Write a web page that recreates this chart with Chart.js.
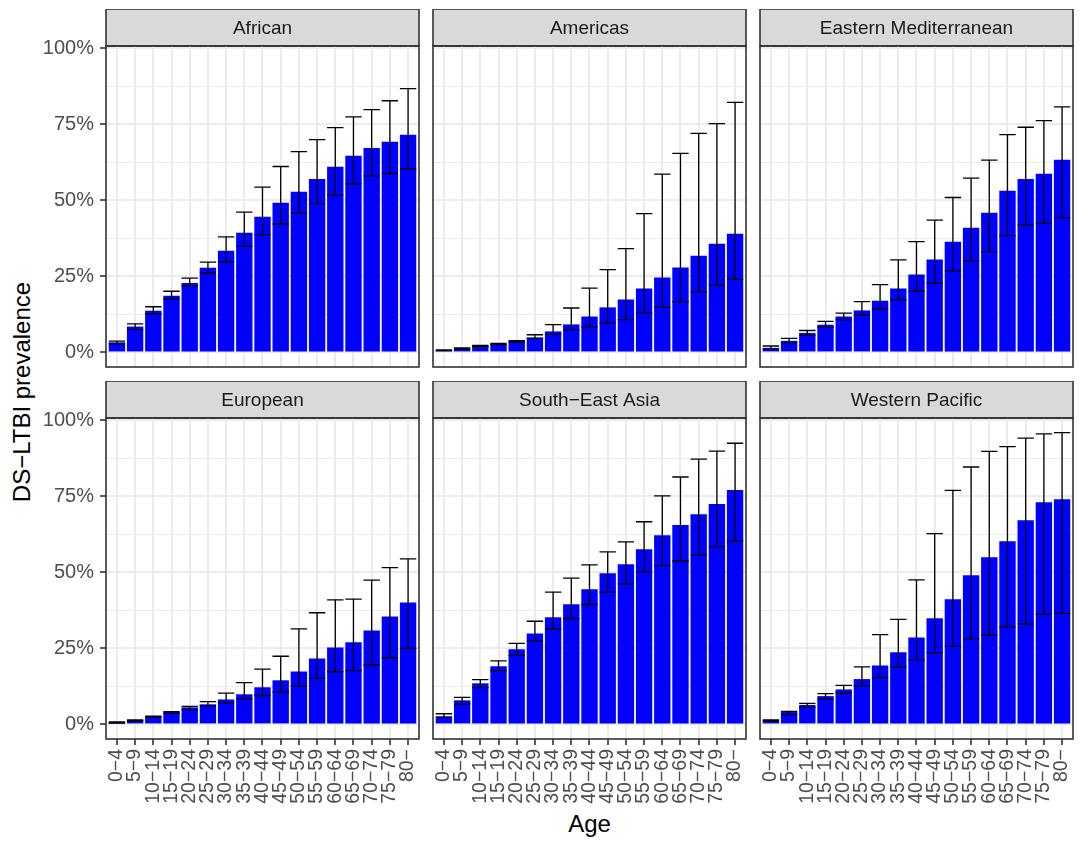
<!DOCTYPE html>
<html>
<head>
<meta charset="utf-8">
<script src="https://cdn.jsdelivr.net/npm/chart.js@4.4.1/dist/chart.umd.min.js"></script>
<style>
  html, body { margin: 0; padding: 0; background: #ffffff; }
  body { width: 1080px; height: 842px; position: relative; overflow: hidden;
         font-family: "Liberation Sans", Arial, Helvetica, sans-serif; }
  canvas { position: absolute; }
  .axis-title { position: absolute; color: #000000; font-size: 24px; white-space: nowrap; }
  #xTitle { left: 106px; width: 967px; top: 810px; text-align: center; }
  #yTitle { left: 22px; top: 392px; transform: translate(-50%, -50%) rotate(-90deg); }
</style>
</head>
<body>
<div class="axis-title" id="xTitle">Age</div>
<div class="axis-title" id="yTitle">DS−LTBI prevalence</div>

<script>
// Age groups shared by every panel
const AGE_GROUPS = ['0−4','5−9','10−14','15−19','20−24','25−29','30−34','35−39','40−44',
                    '45−49','50−54','55−59','60−64','65−69','70−74','75−79','80−'];

// Y-axis tick values (percent)
const Y_TICKS = [0, 25, 50, 75, 100];

// Prevalence (%) with uncertainty interval, by WHO region
const africanMean  = [3.3, 8.5, 13.7, 18.6, 22.8, 27.8, 33.4, 39.3, 44.6, 49.2, 52.8, 57.0, 61.0, 64.6, 67.2, 69.2, 71.5];
const africanLower = [2.8, 7.5, 12.7, 17.6, 21.9, 26.1, 29.8, 34.9, 38.7, 42.2, 45.8, 48.9, 51.7, 55.4, 58.0, 58.8, 60.2];
const africanUpper = [3.7, 9.4, 15.0, 20.1, 24.4, 29.7, 38.0, 46.1, 54.3, 61.1, 66.0, 69.9, 73.9, 77.4, 79.8, 82.7, 86.7];

const americasMean  = [0.7, 1.3, 2.1, 2.8, 3.8, 4.9, 6.9, 9.2, 11.8, 14.8, 17.4, 21.0, 24.6, 27.9, 31.8, 35.7, 39.0];
const americasLower = [0.6, 1.1, 1.9, 2.6, 3.4, 4.6, 5.9, 7.4, 8.4, 9.6, 10.8, 13.1, 14.8, 16.7, 20.0, 22.1, 24.0];
const americasUpper = [0.8, 1.5, 2.3, 3.0, 3.9, 5.8, 9.1, 14.6, 21.1, 27.2, 34.1, 45.6, 58.6, 65.4, 72.0, 75.2, 82.2];

const eastMedMean  = [1.5, 3.8, 6.4, 9.1, 11.8, 13.8, 17.0, 21.0, 25.6, 30.5, 36.4, 41.0, 45.9, 53.1, 57.0, 58.7, 63.3];
const eastMedLower = [1.1, 3.2, 5.6, 8.2, 10.7, 12.2, 14.3, 17.3, 20.1, 22.8, 26.8, 30.1, 33.1, 38.4, 41.9, 42.5, 44.2];
const eastMedUpper = [2.1, 4.6, 7.2, 10.2, 12.9, 16.7, 22.3, 30.4, 36.4, 43.5, 50.9, 57.3, 63.2, 71.6, 74.0, 76.2, 80.7];

const europeanMean  = [0.7, 1.4, 2.6, 4.1, 5.6, 6.6, 8.2, 9.9, 12.2, 14.5, 17.4, 21.7, 25.3, 27.0, 30.9, 35.5, 40.1];
const europeanLower = [0.4, 1.1, 2.4, 3.6, 4.8, 6.1, 7.1, 8.4, 9.5, 10.7, 12.6, 15.1, 17.3, 17.7, 19.6, 21.9, 25.0];
const europeanUpper = [0.8, 1.5, 2.7, 4.2, 5.9, 7.5, 10.3, 13.7, 18.2, 22.4, 31.4, 36.7, 40.9, 41.2, 47.4, 51.5, 54.4];

const seAsiaMean  = [2.6, 7.9, 13.5, 19.1, 24.7, 29.9, 35.2, 39.5, 44.4, 49.7, 52.6, 57.6, 62.2, 65.5, 69.1, 72.4, 77.0];
const seAsiaLower = [2.4, 6.7, 12.1, 17.7, 22.7, 27.4, 31.3, 34.8, 39.4, 43.5, 46.2, 50.1, 52.2, 53.7, 55.7, 58.4, 60.3];
const seAsiaUpper = [3.5, 8.9, 14.7, 20.9, 26.6, 33.9, 43.5, 48.1, 52.4, 56.7, 60.0, 66.6, 75.1, 81.3, 87.2, 89.8, 92.4];

const wPacificMean  = [1.4, 4.1, 6.4, 9.3, 11.5, 14.9, 19.4, 23.7, 28.6, 34.9, 41.1, 49.0, 54.9, 60.2, 67.1, 73.0, 74.0];
const wPacificLower = [1.1, 3.2, 5.6, 8.3, 10.4, 12.7, 15.4, 18.9, 21.2, 23.6, 25.7, 28.1, 29.3, 32.0, 33.0, 36.2, 36.5];
const wPacificUpper = [1.5, 4.3, 6.9, 10.1, 12.8, 18.9, 29.5, 34.5, 47.5, 62.7, 76.9, 84.6, 89.7, 91.3, 94.1, 95.5, 95.9];

const PANELS = [
  { name: 'African',               mean: africanMean,  lower: africanLower,  upper: africanUpper },
  { name: 'Americas',              mean: americasMean, lower: americasLower, upper: americasUpper },
  { name: 'Eastern Mediterranean', mean: eastMedMean,  lower: eastMedLower,  upper: eastMedUpper },
  { name: 'European',              mean: europeanMean, lower: europeanLower, upper: europeanUpper },
  { name: 'South−East Asia',       mean: seAsiaMean,   lower: seAsiaLower,   upper: seAsiaUpper },
  { name: 'Western Pacific',       mean: wPacificMean, lower: wPacificLower, upper: wPacificUpper }
];

// ---- layout of the facet grid ----
const FONT = '"Liberation Sans", Arial, Helvetica, sans-serif';
const PLOT_LEFT = [106, 433, 760];
const PLOT_W = 313;
const PLOT_H = 321;
const STRIP_TOP = [9, 381];
const STRIP_H = 37;
const Y_AXIS_W = 76;        // room for y labels in the first column
const X_AXIS_H = 90;        // room for rotated age labels in the bottom row
const PAD = 30;             // spare canvas margin so tick labels never shrink the panel

// shared y range with 5% expansion around the data
const allUpper = PANELS.flatMap(p => p.upper);
const yHi = Math.max(...allUpper);
const Y_MIN = -0.05 * yHi;
const Y_MAX = yHi * 1.05;

// strip header, panel border and error bars
const facetPlugin = {
  id: 'facet',
  beforeDraw(chart, args, opts) {
    const { ctx, chartArea: a } = chart;
    const top = a.top - STRIP_H;
    ctx.save();
    ctx.fillStyle = '#D9D9D9';
    ctx.fillRect(a.left, top, a.right - a.left, STRIP_H);
    ctx.strokeStyle = '#333333';
    ctx.lineWidth = 1.6;
    ctx.strokeRect(a.left, top, a.right - a.left, STRIP_H);
    ctx.fillStyle = '#1A1A1A';
    ctx.font = '19px ' + FONT;
    ctx.textAlign = 'center';
    ctx.textBaseline = 'middle';
    ctx.fillText(opts.label, (a.left + a.right) / 2, top + STRIP_H / 2 + 1);
    ctx.restore();
  },
  afterDatasetsDraw(chart, args, opts) {
    const { ctx } = chart;
    const xs = chart.scales.x, ys = chart.scales.y;
    const bars = chart.getDatasetMeta(0).data;
    ctx.save();
    ctx.strokeStyle = '#000000';
    ctx.lineWidth = 1.3;
    opts.lower.forEach((lo, i) => {
      const x = xs.getPixelForValue(i + 1);
      const half = bars[i].width / 2;
      const yl = ys.getPixelForValue(lo);
      const yu = ys.getPixelForValue(opts.upper[i]);
      ctx.beginPath();
      ctx.moveTo(x, yl); ctx.lineTo(x, yu);
      ctx.moveTo(x - half, yl); ctx.lineTo(x + half, yl);
      ctx.moveTo(x - half, yu); ctx.lineTo(x + half, yu);
      ctx.stroke();
    });
    ctx.restore();
  },
  afterDraw(chart) {
    const { ctx, chartArea: a } = chart;
    ctx.save();
    ctx.strokeStyle = '#333333';
    ctx.lineWidth = 1.6;
    ctx.strokeRect(a.left, a.top, a.right - a.left, a.bottom - a.top);
    ctx.restore();
  }
};

PANELS.forEach((panel, k) => {
  const col = k % 3, row = Math.floor(k / 3);
  const firstCol = col === 0, bottomRow = row === 1;
  const leftSpace = firstCol ? Y_AXIS_W : PAD;
  const bottomSpace = bottomRow ? X_AXIS_H : PAD;

  const canvas = document.createElement('canvas');
  const w = leftSpace + PLOT_W + PAD;
  const h = STRIP_H + PLOT_H + bottomSpace;
  canvas.width = w; canvas.height = h;
  canvas.style.left = (PLOT_LEFT[col] - leftSpace) + 'px';
  canvas.style.top = STRIP_TOP[row] + 'px';
  canvas.style.width = w + 'px'; canvas.style.height = h + 'px';
  document.body.appendChild(canvas);

  new Chart(canvas, {
    type: 'bar',
    data: {
      datasets: [{
        data: panel.mean.map((v, i) => ({ x: i + 1, y: v })),
        backgroundColor: '#0000FF',
        borderWidth: 0,
        barPercentage: 0.9,
        categoryPercentage: 1.0
      }]
    },
    options: {
      responsive: false,
      animation: false,
      devicePixelRatio: 1,
      layout: { padding: { top: STRIP_H, left: firstCol ? 0 : PAD, right: PAD, bottom: bottomRow ? 0 : PAD } },
      plugins: {
        legend: { display: false },
        tooltip: { enabled: false },
        title: { display: false },
        facet: { label: panel.name, lower: panel.lower, upper: panel.upper }
      },
      scales: {
        x: {
          type: 'linear',
          min: 0.4,
          max: AGE_GROUPS.length + 0.6,
          offset: false,
          afterBuildTicks: s => { s.ticks = AGE_GROUPS.map((_, i) => ({ value: i + 1 })); },
          afterFit: s => { s.height = bottomRow ? X_AXIS_H : 0; },
          border: { display: false },
          grid: {
            offset: false,
            color: '#EBEBEB',
            lineWidth: 2,
            drawTicks: bottomRow,
            tickLength: 6,
            tickColor: '#333333',
            tickWidth: 1.6
          },
          ticks: {
            display: bottomRow,
            autoSkip: false,
            minRotation: 90,
            maxRotation: 90,
            padding: 4,
            color: '#4D4D4D',
            font: { family: FONT, size: 19.5 },
            callback: v => AGE_GROUPS[Math.round(v) - 1]
          }
        },
        y: {
          type: 'linear',
          min: Y_MIN,
          max: Y_MAX,
          afterBuildTicks: s => {
            const t = [];
            for (let v = 0; v <= 100; v += 12.5) t.push({ value: v });
            s.ticks = t;
          },
          afterFit: s => { s.width = firstCol ? Y_AXIS_W : 0; },
          border: { display: false },
          grid: {
            color: '#EBEBEB',
            lineWidth: c => (Y_TICKS.includes(c.tick.value) ? 2 : 1),
            drawTicks: firstCol,
            tickLength: 6,
            tickColor: c => (Y_TICKS.includes(c.tick.value) ? '#333333' : 'rgba(0,0,0,0)'),
            tickWidth: 1.6
          },
          ticks: {
            display: firstCol,
            autoSkip: false,
            padding: 6,
            color: '#4D4D4D',
            font: { family: FONT, size: 20 },
            callback: v => (Y_TICKS.includes(v) ? v + '%' : '')
          }
        }
      }
    },
    plugins: [facetPlugin]
  });
});
</script>
</body>
</html>
